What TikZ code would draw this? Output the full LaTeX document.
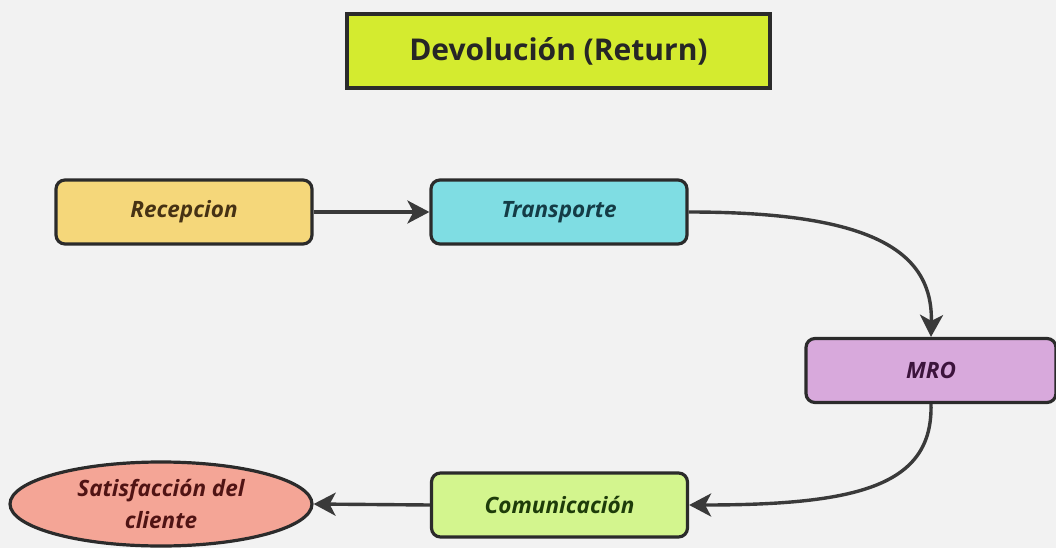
\documentclass[tikz,border=0pt]{standalone}
\usepackage{fontspec}
\setmainfont{Open Sans}
\usetikzlibrary{arrows.meta,shapes.geometric}
\definecolor{bg}{HTML}{F2F2F2}
\definecolor{titlefill}{HTML}{D4EB2F}
\definecolor{recfill}{HTML}{F5D77A}
\definecolor{trafill}{HTML}{7FDDE3}
\definecolor{mrofill}{HTML}{D8A9DC}
\definecolor{comfill}{HTML}{D3F58E}
\definecolor{satfill}{HTML}{F4A596}
\definecolor{edge}{HTML}{2B2B2B}
\definecolor{linec}{HTML}{3A3A3A}
\tikzset{
  box/.style={draw=edge, line width=3.2pt, rounded corners=9pt, minimum width=256pt, minimum height=64pt, inner sep=0pt, font=\fontsize{22.5}{26}\selectfont\bfseries\itshape},
  flow/.style={draw=linec, line width=3.4pt, -{Stealth[length=22pt,width=23pt,inset=6pt]}},
}
\begin{document}
\begin{tikzpicture}[x=1pt,y=-1pt]
\useasboundingbox (0,0) rectangle (1056,548);
\fill[bg] (0,0) rectangle (1056,548);
\node[draw=edge, line width=3.4pt, fill=titlefill, minimum width=423pt, minimum height=74pt, inner sep=0pt, font=\fontsize{30}{34}\selectfont\bfseries, text=black!85] (title) at (558.5,51) {Devolución (Return)};
\node[box, fill=recfill, text={rgb,255:red,70;green,50;blue,20}] (rec) at (184,212) {Recepcion};
\node[box, fill=trafill, text={rgb,255:red,20;green,60;blue,70}] (tra) at (559,212) {Transporte};
\node[box, fill=mrofill, minimum width=250pt, text={rgb,255:red,60;green,20;blue,60}] (mro) at (931,370.5) {MRO};
\node[box, fill=comfill, text={rgb,255:red,30;green,60;blue,10}] (com) at (559.5,505) {Comunicación};
\node[ellipse, draw=edge, line width=3.2pt, fill=satfill, minimum width=302pt, minimum height=84pt, inner sep=0pt, align=center, font=\fontsize{22.5}{32}\selectfont\bfseries\itshape, text={rgb,255:red,80;green,20;blue,20}] (sat) at (161,504) {Satisfacción del\\cliente};
\draw[flow] (rec.east) -- (tra.west);
\draw[flow] (tra.east) .. controls (870,212) and (933,250) .. (mro.north);
\draw[flow] (mro.south) .. controls (933,485) and (860,505) .. (com.east);
\draw[flow] (com.west) -- (sat.east);
\end{tikzpicture}
\end{document}
